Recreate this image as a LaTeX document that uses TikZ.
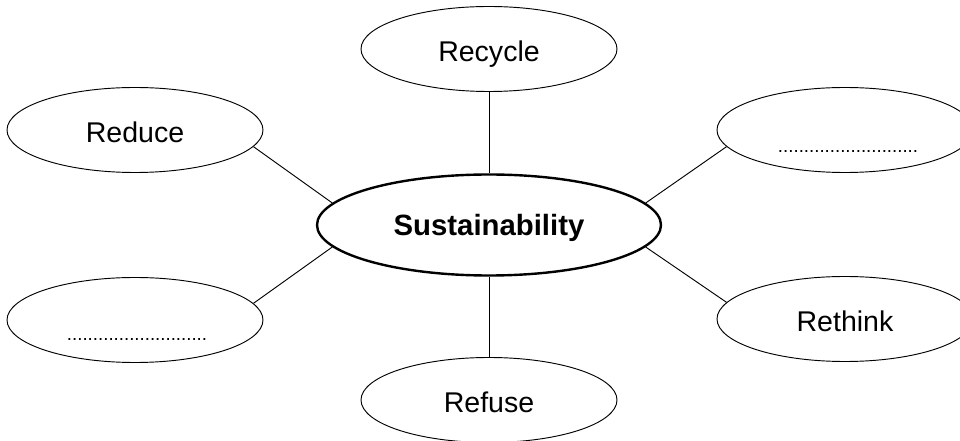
\documentclass[tikz,border=0pt]{standalone}
\usepackage{fontspec}
\setmainfont{Liberation Sans}
\usetikzlibrary{shapes.geometric}

\begin{document}
\begin{tikzpicture}[x=0.75pt,y=-0.75pt,
        bubble/.style={ellipse,draw,line width=0.7pt,inner sep=0pt,
            minimum width=256*0.75pt,minimum height=85*0.75pt,
            text height=18.3pt,text depth=0pt,
            font=\fontsize{21.4}{24}\selectfont},
        hub/.style={bubble,line width=1.8pt,minimum width=344*0.75pt,
            minimum height=101*0.75pt,text height=15.8pt,
            font=\fontsize{22}{24}\selectfont\bfseries},
        gap/.style={inner sep=0pt,font=\fontsize{14}{16}\selectfont},
        spoke/.style={line width=0.7pt}]
\useasboundingbox (0,0) rectangle (960,441);
\clip (0,0) rectangle (960,441);

\node[hub] (sus) at (489,225) {Sustainability};
\node[bubble] (recycle) at (489,49) {Recycle};
\node[bubble] (refuse) at (489,400) {Refuse};
\node[bubble] (reduce) at (135,130) {Reduce};
\node[bubble] (blank1) at (135,320) {};
\node[bubble] (blank2) at (845,130) {};
\node[bubble] (rethink) at (845,319) {Rethink};

% answer lines
\node[gap] (dots1) at (137,340) {...........................};
\node[gap] (dots2) at (848,152) {...........................};

\draw[spoke] (recycle) -- (sus);
\draw[spoke] (refuse) -- (sus);
\draw[spoke] (sus.172) -- (reduce.-8);
\draw[spoke] (sus.188) -- (blank1.8);
\draw[spoke] (sus.8) -- (blank2.188);
\draw[spoke] (sus.-8) -- (rethink.172);

\end{tikzpicture}
\end{document}
